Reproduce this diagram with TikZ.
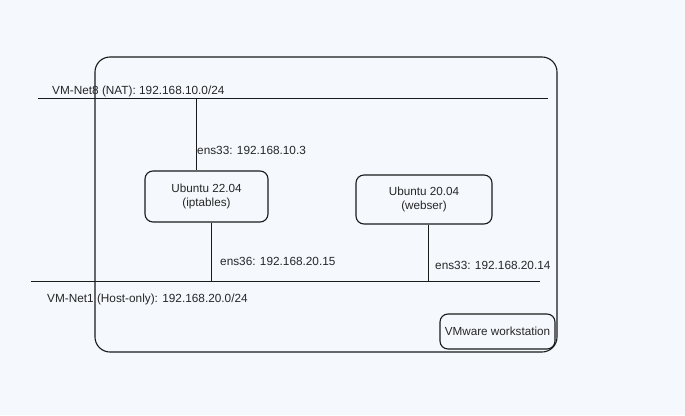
\documentclass[tikz,border=0pt]{standalone}
\usepackage{fontspec}
\setmainfont{Liberation Sans}
\usetikzlibrary{positioning}

\definecolor{bgblue}{HTML}{F5F9FD}
\definecolor{inkgray}{HTML}{1A1A1A}
\definecolor{txtgray}{HTML}{262626}

\begin{document}
\begin{tikzpicture}[
    x=1pt, y=-1pt,
    box/.style={
        rectangle, rounded corners=8pt, draw=inkgray, line width=1.1pt,
        align=center, inner sep=0pt, text=txtgray, font=\fontsize{11.7}{13.5}\selectfont
    },
    line/.style={
        draw=inkgray, line width=1pt
    },
    lbl/.style={
        anchor=west, inner sep=0pt, text=txtgray, font=\fontsize{11.8}{13.5}\selectfont
    }
]

% Background
\fill[bgblue] (0,0) rectangle (685,415);
\useasboundingbox (0,0) rectangle (685,415);

% VMware host frame
\node[box, rounded corners=15pt, minimum width=462pt, minimum height=295pt] (host) at (326,204.5) {};

% Hosts
\node[box, minimum width=123pt, minimum height=51pt] (ubu22) at (206.5,196.5) {Ubuntu 22.04\\(iptables)};
\node[box, minimum width=136pt, minimum height=49pt] (ubu20) at (424,199.5) {Ubuntu 20.04\\(webser)};
\node[box, minimum width=115pt, minimum height=35pt] (vmws) at (497.5,331.5) {VMware workstation};

% Networks
\coordinate (natL) at (38,98);
\coordinate (natR) at (548,98);
\coordinate (hostL) at (31,281);
\coordinate (hostR) at (540,281);
\draw[line] (natL) -- (natR);
\draw[line] (hostL) -- (hostR);

\node[lbl] (natlbl) at (52,91) {VM-Net8 (NAT): 192.168.10.0/24};
\node[lbl] (hostlbl) at (47,299) {VM-Net1 (Host-only): 192.168.20.0/24};

% Taps
\coordinate (tap1) at (196,98);
\coordinate (tap2) at (211,281);
\coordinate (tap3) at (428,281);
\draw[line] (tap1) -- (tap1 |- ubu22.north);
\draw[line] (ubu22.south -| tap2) -- (tap2);
\draw[line] (ubu20.south -| tap3) -- (tap3);

\node[lbl] (if1) at (197,150) {ens33: 192.168.10.3};
\node[lbl] (if2) at (220,261) {ens36: 192.168.20.15};
\node[lbl] (if3) at (435,265) {ens33: 192.168.20.14};

\end{tikzpicture}
\end{document}
